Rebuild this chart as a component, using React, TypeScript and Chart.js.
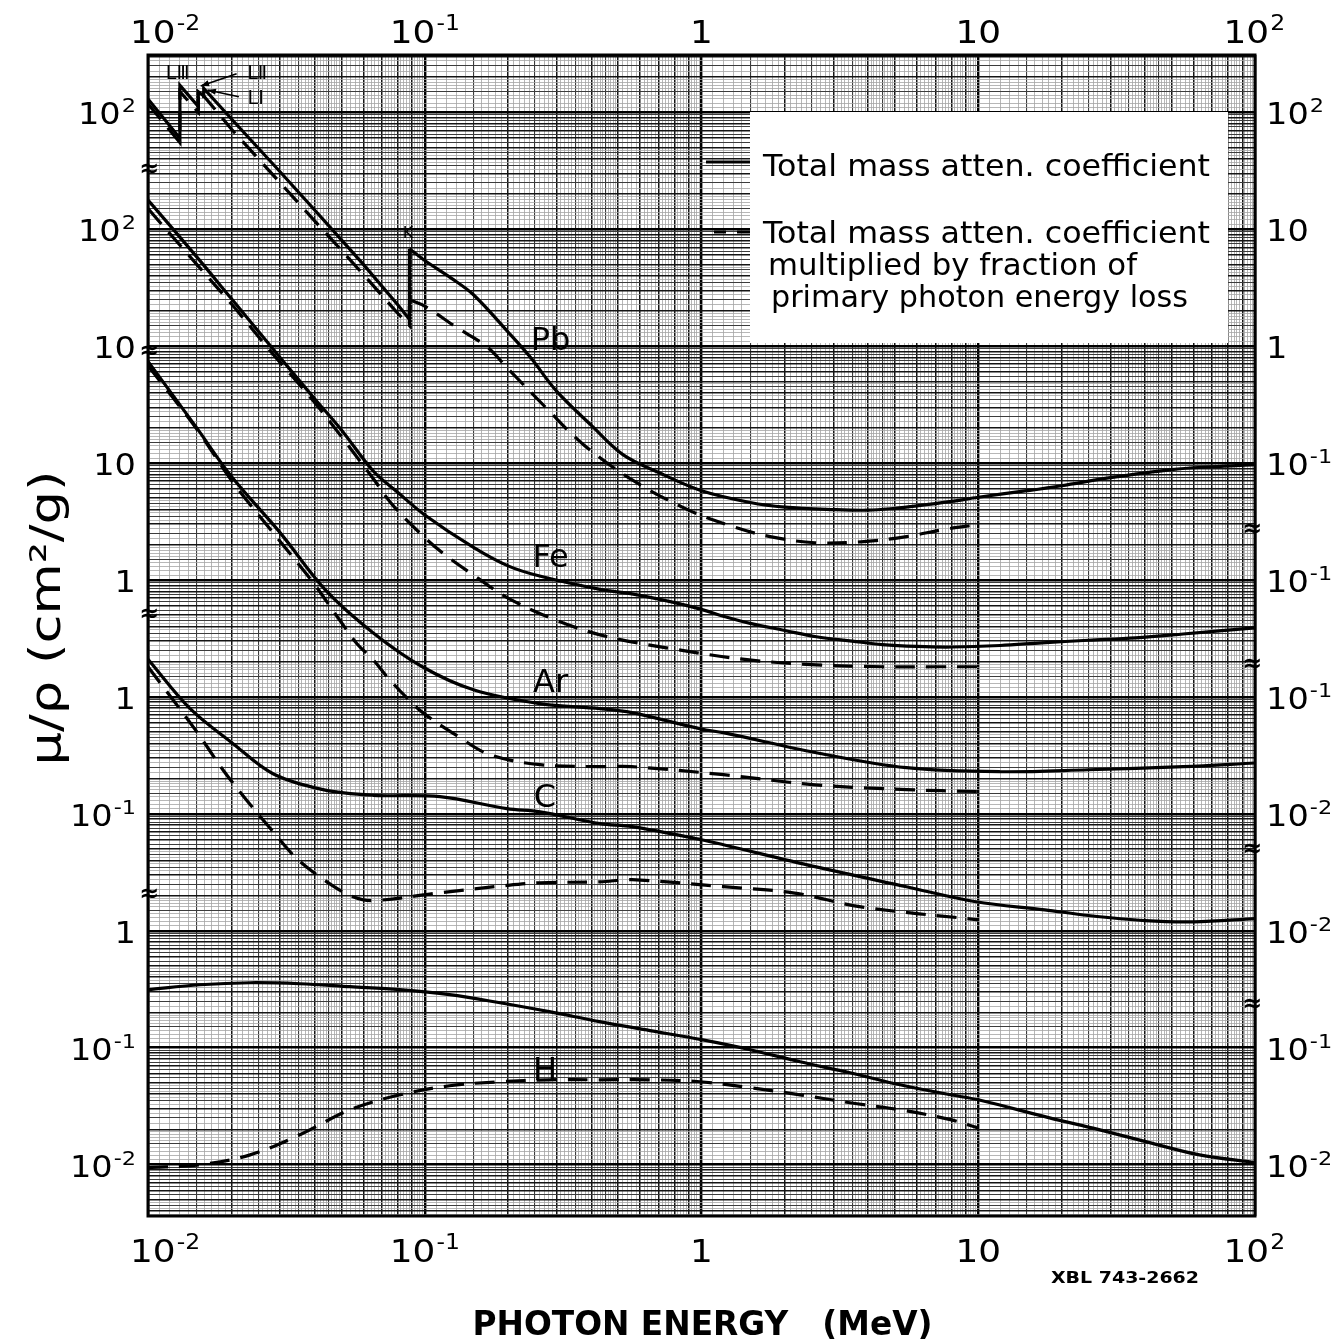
import React, { useEffect, useRef } from "react";
import { Chart, registerables } from "chart.js";

Chart.register(...registerables);

// ---------------- data (photon energy in MeV, mu/rho in cm^2/g) ----------------
// Pb: low-energy part with the L and K absorption edges, then the smooth high-energy part
const PB_E_LO = [0.01, 0.01304, 0.01304, 0.0152, 0.0152, 0.0159, 0.0159, 0.02, 0.03, 0.04, 0.05, 0.06, 0.08, 0.088, 0.088];
const PB_MU_LO = [130, 60, 170, 112, 150, 138, 160, 88, 31, 14.6, 8.1, 5.0, 2.25, 1.7, 6.8];
const PB_E_HI = [0.088, 0.1, 0.125, 0.15, 0.2, 0.24, 0.3, 0.4, 0.52, 0.7, 1, 1.5, 2, 3, 4, 5, 6, 8, 10, 15, 20, 30, 50, 70, 100];
const PB_MU_HI = [6.8, 5.4, 3.8, 2.75, 1.32, 0.81, 0.41, 0.21, 0.118, 0.083, 0.058, 0.046, 0.042, 0.040, 0.0395, 0.041, 0.043, 0.047, 0.051, 0.058, 0.064, 0.075, 0.088, 0.093, 0.097];
const PB_EN_E_LO = [0.01, 0.01304, 0.01304, 0.0152, 0.0152, 0.0159, 0.0159, 0.02, 0.03, 0.04, 0.05, 0.06, 0.08, 0.088, 0.088];
const PB_EN_LO = [118, 55, 150, 100, 132, 120, 138, 72, 25, 11.8, 6.6, 4.1, 1.9, 1.5, 2.5];
const PB_EN_E_HI = [0.088, 0.1, 0.13, 0.1675, 0.2, 0.277, 0.373, 0.56, 0.89, 1.3, 1.77, 2.57, 3.77, 5.5, 7.5, 10];
const PB_EN_HI = [2.5, 2.2, 1.45, 0.99, 0.64, 0.29, 0.145, 0.072, 0.040, 0.0286, 0.0235, 0.0208, 0.0212, 0.0235, 0.027, 0.0298];

const FE_E = [0.01, 0.015, 0.02, 0.03, 0.04, 0.05, 0.065, 0.08, 0.1, 0.15, 0.2, 0.26, 0.43, 0.56, 0.8, 1, 1.2, 1.5, 2, 2.6, 3.5, 4.5, 6, 8, 12, 17, 25, 37, 55, 100];
const FE_MU = [178, 58, 25.5, 8.0, 3.55, 1.92, 0.86, 0.56, 0.36, 0.19, 0.132, 0.108, 0.083, 0.076, 0.064, 0.056, 0.049, 0.0425, 0.037, 0.0327, 0.030, 0.028, 0.027, 0.0267, 0.0275, 0.029, 0.0305, 0.032, 0.0345, 0.039];
const FE_EN_E = [0.01, 0.015, 0.02, 0.028, 0.04, 0.05, 0.065, 0.077, 0.1, 0.12, 0.15, 0.2, 0.3, 0.45, 0.8, 1.46, 2.6, 4.5, 7, 10];
const FE_EN = [150, 50, 23, 8.8, 3.3, 1.68, 0.74, 0.43, 0.23, 0.16, 0.11, 0.07, 0.045, 0.033, 0.0256, 0.0208, 0.0188, 0.0181, 0.0181, 0.0181];

const AR_E = [0.01, 0.015, 0.02, 0.03, 0.044, 0.065, 0.098, 0.15, 0.26, 0.43, 0.56, 1, 1.2, 2.6, 5.5, 12, 25, 55, 100];
const AR_MU = [74, 20, 7.7, 2.54, 0.81, 0.354, 0.181, 0.115, 0.0875, 0.0793, 0.0733, 0.053, 0.0494, 0.0333, 0.0248, 0.0229, 0.0238, 0.0253, 0.0272];
const AR_EN_E = [0.01, 0.015, 0.0203, 0.0307, 0.0395, 0.0494, 0.0569, 0.0651, 0.073, 0.0862, 0.0986, 0.1307, 0.172, 0.261, 0.43, 0.56, 1.2, 2.57, 5.5, 10];
const AR_EN = [68, 19.5, 6.8, 2.0, 0.95, 0.45, 0.285, 0.208, 0.149, 0.098, 0.073, 0.0466, 0.032, 0.0263, 0.0253, 0.0253, 0.0216, 0.0177, 0.0161, 0.0155];

const C_E = [0.01, 0.0142, 0.0203, 0.0283, 0.0429, 0.0651, 0.1135, 0.198, 0.261, 0.43, 0.561, 1, 1.2, 2.57, 5.5, 9.8, 17.4, 25, 40, 60, 100];
const C_MU = [2.10, 0.793, 0.398, 0.220, 0.161, 0.144, 0.140, 0.1106, 0.104, 0.0823, 0.0776, 0.060, 0.0544, 0.0353, 0.0238, 0.0177, 0.0151, 0.0135, 0.0122, 0.0119, 0.0127];
const C_EN_E = [0.01, 0.015, 0.0187, 0.0228, 0.0283, 0.0345, 0.0443, 0.0551, 0.0651, 0.1135, 0.198, 0.261, 0.43, 0.561, 1.2, 2.14, 3.77, 10];
const C_EN = [1.81, 0.504, 0.2356, 0.1294, 0.0703, 0.0413, 0.0262, 0.0195, 0.0181, 0.0211, 0.0244, 0.0257, 0.0262, 0.0273, 0.0238, 0.0211, 0.0160, 0.0124];

const H_E = [0.01, 0.0154, 0.0234, 0.0354, 0.0537, 0.0813, 0.123, 0.187, 0.282, 0.428, 0.651, 1.0, 1.5, 2.27, 3.44, 5.22, 7.93, 10, 18.1, 27.3, 41.6, 63, 100];
const H_MU = [0.313, 0.345, 0.359, 0.352, 0.332, 0.313, 0.284, 0.242, 0.203, 0.167, 0.140, 0.117, 0.096, 0.0757, 0.061, 0.0481, 0.0395, 0.0358, 0.0251, 0.0199, 0.0154, 0.0121, 0.0104];
const H_EN_E = [0.01, 0.0154, 0.0234, 0.0354, 0.0537, 0.0813, 0.123, 0.187, 0.282, 0.428, 0.651, 0.988, 1.5, 2.27, 3.44, 5.22, 7.93, 10];
const H_EN = [0.0094, 0.00996, 0.0121, 0.018, 0.0294, 0.0395, 0.0472, 0.0511, 0.0531, 0.0531, 0.0531, 0.0511, 0.0454, 0.0395, 0.0338, 0.0294, 0.0242, 0.0206];

// each element sits on its own block of the shared log paper (one decade apart)
const SHIFT_PB = 1e5;
const SHIFT_FE = 1e4;
const SHIFT_AR = 1e3;
const SHIFT_C = 1e2;
const SHIFT_H = 1;

// axis ranges and labels
const X_MIN = 0.01;
const X_MAX = 100;
const Y_MIN = Math.pow(10, -2.44);
const Y_MAX = Math.pow(10, 7.49);
const X_TICKS = [0.01, 0.1, 1, 10, 100];
const X_LABELS = ["10^-2", "10^-1", "1", "10", "10^2"];
const Y_TICKS = [1e7, 1e6, 1e5, 1e4, 1e3, 1e2, 1e1, 1, 0.1, 0.01];
const Y_LABELS_LEFT = ["10^2", "10^2", "10", "10", "1", "1", "10^-1", "1", "10^-1", "10^-2"];
const Y_LABELS_RIGHT = ["10^2", "10", "1", "10^-1", "10^-1", "10^-1", "10^-2", "10^-2", "10^-1", "10^-2"];
const BREAKS_LEFT = [3.24e6, 9.0e4, 501, 2.03];
const BREAKS_RIGHT = [2690, 188, 4.93, 0.233];

const CURVE_LABELS = [
  { text: "Pb", e: 0.285, v: 1.18, shift: SHIFT_PB },
  { text: "Fe", e: 0.285, v: 0.164, shift: SHIFT_FE },
  { text: "Ar", e: 0.285, v: 0.14, shift: SHIFT_AR },
  { text: "C", e: 0.272, v: 0.146, shift: SHIFT_C },
  { text: "H", e: 0.272, v: 0.0665, shift: SHIFT_H },
];
const EDGE_LABELS = [
  { text: "K", e: 0.087, v: 9.6, size: 16 },
  { text: "L\u2162", e: 0.0128, v: 223, size: 19 },
  { text: "L\u2161", e: 0.0248, v: 223, size: 19 },
  { text: "L\u2160", e: 0.0245, v: 136, size: 19 },
];
const EDGE_ARROWS = [
  { e0: 0.0209, v0: 214, e1: 0.0155, v1: 168 },
  { e0: 0.0213, v0: 136, e1: 0.0164, v1: 155 },
];

const LEGEND_SOLID = "Total mass atten. coefficient";
const LEGEND_DASHED = ["Total mass atten. coefficient", "multiplied by fraction of", "primary photon energy loss"];
const X_TITLE = "PHOTON ENERGY   (MeV)";
const Y_TITLE = "\u03bc/\u03c1 (cm\u00b2/g)";
const STAMP = "XBL 743-2662";

// ---------------- helpers ----------------
const FONT = '"DejaVu Sans", "Liberation Sans", sans-serif';

function pts(es: number[], vs: number[], shift: number) {
  return es.map((e, i) => ({ x: e, y: vs[i] * shift }));
}

// log-paper rulings; steps are given in hundredths of the mantissa for three ranges
function paperTicks(minV: number, maxV: number, steps: number[]) {
  const out: any[] = [];
  const e0 = Math.floor(Math.log10(minV)) - 1;
  const e1 = Math.ceil(Math.log10(maxV));
  for (let e = e0; e <= e1; e++) {
    for (let i = 100; i < 1000; i += i < 200 ? steps[0] : i < 500 ? steps[1] : steps[2]) {
      const v = (i / 100) * Math.pow(10, e);
      if (v < minV * 0.9999 || v > maxV * 1.0001) continue;
      let lvl = 3;
      if (i === 100) lvl = 0;
      else if (i % 100 === 0) lvl = 1;
      else if (i % 50 === 0) lvl = 2;
      out.push({ value: v, lvl });
    }
  }
  return out;
}

const GRID_COLOR = ["#000000", "#141414", "#3c3c3c", "#a4a4a4"];
const GRID_WIDTH = [2.4, 1.5, 1.1, 0.8];

function fitText(ctx: CanvasRenderingContext2D, s: string, x: number, y: number, size: number, o: any = {}) {
  ctx.save();
  ctx.font = `${o.weight || "normal"} ${size}px ${FONT}`;
  const w = ctx.measureText(s).width;
  const sx = o.width ? o.width / w : 1;
  ctx.translate(x, y);
  ctx.scale(sx, 1);
  ctx.textAlign = o.align || "left";
  ctx.textBaseline = o.baseline || "alphabetic";
  ctx.fillStyle = "#000";
  ctx.fillText(s, 0, 0);
  ctx.restore();
}

function drawPow(ctx: CanvasRenderingContext2D, label: string, x: number, y: number, size: number, align: string, minLeft?: number, maxRight?: number) {
  const [b, e] = label.split("^");
  const sx = 1.12;
  const es = Math.round(size * 0.66);
  ctx.font = `${size}px ${FONT}`;
  const wb = ctx.measureText(b).width * sx;
  let we = 0;
  if (e) {
    ctx.font = `${es}px ${FONT}`;
    we = ctx.measureText(e).width * sx + 1;
  }
  const total = wb + we;
  let left = align === "center" ? x - total / 2 : align === "right" ? x - total : x;
  if (minLeft !== undefined && left < minLeft) left = minLeft;
  if (maxRight !== undefined && left + total > maxRight) left = maxRight - total;
  ctx.save();
  ctx.fillStyle = "#000";
  ctx.textAlign = "left";
  ctx.textBaseline = "alphabetic";
  ctx.translate(left, y);
  ctx.scale(sx, 1);
  ctx.font = `${size}px ${FONT}`;
  ctx.fillText(b, 0, 0);
  if (e) {
    ctx.font = `${es}px ${FONT}`;
    ctx.fillText(e, wb / sx + 1, -size * 0.4);
  }
  ctx.restore();
}

const paperPlugin = {
  id: "paper",
  beforeDraw(chart: any) {
    const { ctx } = chart;
    ctx.save();
    ctx.fillStyle = "#ffffff";
    ctx.fillRect(0, 0, chart.width, chart.height);
    ctx.restore();
  },
  afterDraw(chart: any) {
    const { ctx, chartArea: a } = chart;
    const xs = chart.scales.x;
    const ys = chart.scales.y;
    ctx.save();

    // frame
    ctx.strokeStyle = "#000";
    ctx.lineWidth = 3;
    ctx.strokeRect(a.left, a.top, a.right - a.left, a.bottom - a.top);

    // x tick labels (top and bottom)
    X_TICKS.forEach((v, i) => {
      const px = xs.getPixelForValue(v);
      drawPow(ctx, X_LABELS[i], px, a.top - 12, 32, "center", a.left - 18, a.right + 30);
      drawPow(ctx, X_LABELS[i], px, a.bottom + 46, 32, "center", a.left - 18, a.right + 30);
    });

    // y tick labels (left and right)
    Y_TICKS.forEach((v, i) => {
      const py = ys.getPixelForValue(v);
      drawPow(ctx, Y_LABELS_LEFT[i], a.left - 12, py + 12, 30, "right");
      drawPow(ctx, Y_LABELS_RIGHT[i], a.right + 11, py + 12, 30, "left");
    });

    // scale-break marks
    ctx.fillStyle = "#000";
    ctx.font = `bold 24px ${FONT}`;
    ctx.textAlign = "center";
    ctx.textBaseline = "middle";
    BREAKS_LEFT.forEach((v) => ctx.fillText("\u2248", a.left + 1, ys.getPixelForValue(v)));
    BREAKS_RIGHT.forEach((v) => ctx.fillText("\u2248", a.right - 3, ys.getPixelForValue(v)));

    // legend box
    const lx0 = a.left + 602;
    const ly0 = a.top + 57;
    const lx1 = a.left + 1080;
    const ly1 = a.top + 288;
    ctx.fillStyle = "#ffffff";
    ctx.fillRect(lx0, ly0, lx1 - lx0, ly1 - ly0);
    ctx.strokeStyle = "#000";
    ctx.lineWidth = 3.2;
    ctx.setLineDash([]);
    ctx.beginPath();
    ctx.moveTo(lx0 - 44, ly0 + 50);
    ctx.lineTo(lx0, ly0 + 50);
    ctx.stroke();
    ctx.setLineDash([20, 11]);
    ctx.lineDashOffset = 8;
    ctx.beginPath();
    ctx.moveTo(lx0 - 36, ly0 + 120);
    ctx.lineTo(lx0, ly0 + 120);
    ctx.stroke();
    ctx.setLineDash([]);
    fitText(ctx, LEGEND_SOLID, lx0 + 13, ly0 + 64, 31, { width: 447 });
    fitText(ctx, LEGEND_DASHED[0], lx0 + 13, ly0 + 131, 31, { width: 447 });
    fitText(ctx, LEGEND_DASHED[1], lx0 + 18, ly0 + 163, 31, { width: 369 });
    fitText(ctx, LEGEND_DASHED[2], lx0 + 21, ly0 + 195, 31, { width: 417 });

    // curve labels
    CURVE_LABELS.forEach((l) => {
      const px = xs.getPixelForValue(l.e);
      const py = ys.getPixelForValue(l.v * l.shift);
      fitText(ctx, l.text, px, py + 12, 32, { align: "center" });
    });
    EDGE_LABELS.forEach((l) => {
      const px = xs.getPixelForValue(l.e);
      const py = ys.getPixelForValue(l.v * SHIFT_PB);
      fitText(ctx, l.text, px, py + 7, l.size, { align: "center" });
    });
    ctx.strokeStyle = "#000";
    ctx.fillStyle = "#000";
    ctx.lineWidth = 1.6;
    EDGE_ARROWS.forEach((r) => {
      const x0 = xs.getPixelForValue(r.e0);
      const y0 = ys.getPixelForValue(r.v0 * SHIFT_PB);
      const x1 = xs.getPixelForValue(r.e1);
      const y1 = ys.getPixelForValue(r.v1 * SHIFT_PB);
      ctx.beginPath();
      ctx.moveTo(x0, y0);
      ctx.lineTo(x1, y1);
      ctx.stroke();
      const ang = Math.atan2(y1 - y0, x1 - x0);
      ctx.beginPath();
      ctx.moveTo(x1, y1);
      ctx.lineTo(x1 - 9 * Math.cos(ang - 0.35), y1 - 9 * Math.sin(ang - 0.35));
      ctx.lineTo(x1 - 9 * Math.cos(ang + 0.35), y1 - 9 * Math.sin(ang + 0.35));
      ctx.closePath();
      ctx.fill();
    });

    // titles
    fitText(ctx, X_TITLE, (a.left + a.right) / 2 + 1, a.bottom + 119, 34, { weight: "bold", align: "center", width: 460 });
    fitText(ctx, STAMP, a.right - 130, a.bottom + 67, 16, { weight: "bold", align: "center", width: 148 });
    ctx.save();
    ctx.translate(45, 618);
    ctx.rotate(-Math.PI / 2);
    fitText(ctx, Y_TITLE, 0, 15, 42, { align: "center", width: 295 });
    ctx.restore();

    ctx.restore();
  },
};

function lineDs(data: any[], dashed: boolean, tension: number) {
  return {
    data,
    borderColor: "#000",
    backgroundColor: "#000",
    borderWidth: 3.2,
    borderDash: dashed ? [20, 11] : [],
    pointRadius: 0,
    fill: false,
    tension,
  };
}

export default function App() {
  const ref = useRef<HTMLCanvasElement>(null);
  useEffect(() => {
    const canvas = ref.current;
    if (!canvas) return;
    const xGrid = paperTicks(X_MIN, X_MAX, [10, 10, 20]);
    const yGrid = paperTicks(Y_MIN, Y_MAX, [10, 25, 50]);
    const gridOpts = {
      drawTicks: false,
      color: (c: any) => GRID_COLOR[c.tick && c.tick.lvl !== undefined ? c.tick.lvl : 3],
      lineWidth: (c: any) => GRID_WIDTH[c.tick && c.tick.lvl !== undefined ? c.tick.lvl : 3],
    };
    const chart = new Chart(canvas, {
      type: "line",
      data: {
        datasets: [
          lineDs(pts(PB_E_LO, PB_MU_LO, SHIFT_PB), false, 0),
          lineDs(pts(PB_E_HI, PB_MU_HI, SHIFT_PB), false, 0.35),
          lineDs(pts(PB_EN_E_LO, PB_EN_LO, SHIFT_PB), true, 0),
          lineDs(pts(PB_EN_E_HI, PB_EN_HI, SHIFT_PB), true, 0.35),
          lineDs(pts(FE_E, FE_MU, SHIFT_FE), false, 0.35),
          lineDs(pts(FE_EN_E, FE_EN, SHIFT_FE), true, 0.35),
          lineDs(pts(AR_E, AR_MU, SHIFT_AR), false, 0.35),
          lineDs(pts(AR_EN_E, AR_EN, SHIFT_AR), true, 0.35),
          lineDs(pts(C_E, C_MU, SHIFT_C), false, 0.35),
          lineDs(pts(C_EN_E, C_EN, SHIFT_C), true, 0.35),
          lineDs(pts(H_E, H_MU, SHIFT_H), false, 0.35),
          lineDs(pts(H_EN_E, H_EN, SHIFT_H), true, 0.35),
        ] as any,
      },
      options: {
        responsive: false,
        animation: false,
        devicePixelRatio: 1,
        layout: { padding: { left: 148, top: 55, right: 81, bottom: 123 } },
        plugins: { legend: { display: false }, tooltip: { enabled: false } },
        scales: {
          x: {
            type: "logarithmic",
            min: X_MIN,
            max: X_MAX,
            afterBuildTicks: (s: any) => {
              s.ticks = xGrid.map((t) => ({ ...t }));
            },
            ticks: { display: false },
            grid: gridOpts as any,
            border: { display: false },
          },
          y: {
            type: "logarithmic",
            min: Y_MIN,
            max: Y_MAX,
            afterBuildTicks: (s: any) => {
              s.ticks = yGrid.map((t) => ({ ...t }));
            },
            ticks: { display: false },
            grid: gridOpts as any,
            border: { display: false },
          },
        },
      } as any,
      plugins: [paperPlugin as any],
    });
    return () => chart.destroy();
  }, []);
  return (
    <div style={{ position: "absolute", left: 0, top: 0, width: 1336, height: 1339, background: "#fff" }}>
      <canvas ref={ref} width={1336} height={1339} style={{ display: "block", width: 1336, height: 1339 }} />
    </div>
  );
}
